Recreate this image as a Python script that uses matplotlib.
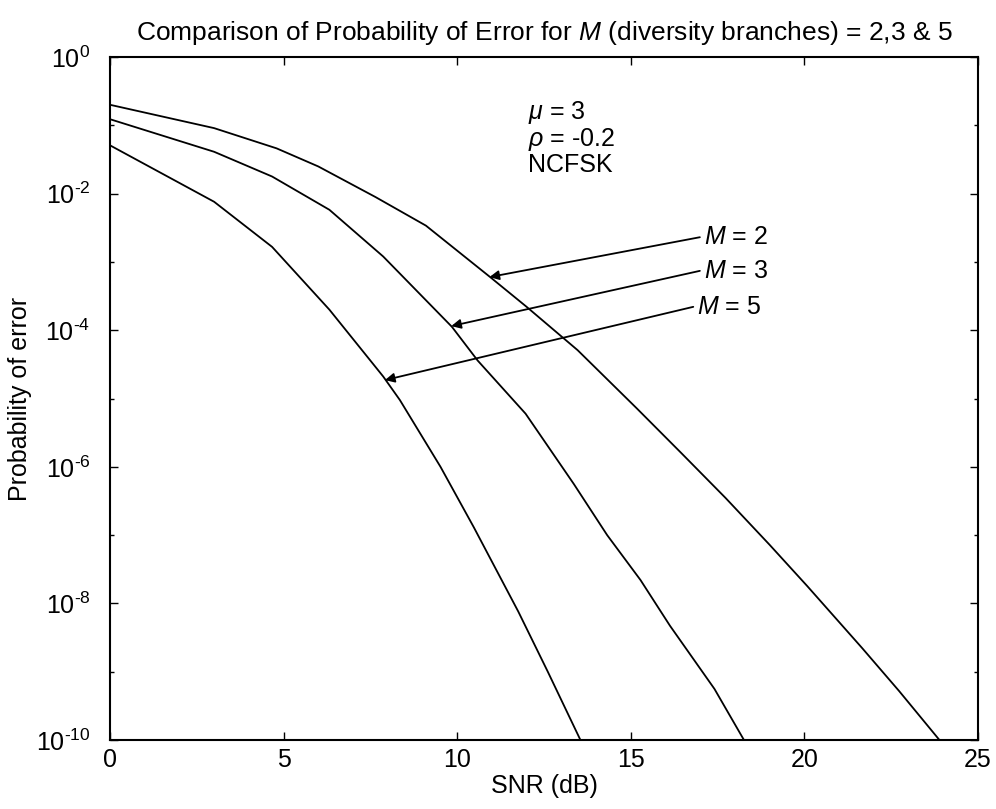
import numpy as np
import matplotlib.pyplot as plt
from matplotlib.ticker import FixedLocator, NullFormatter

plt.rcParams['font.family'] = ['Liberation Sans', 'DejaVu Sans']
plt.rcParams['mathtext.fontset'] = 'custom'
plt.rcParams['mathtext.rm'] = 'Liberation Sans'
plt.rcParams['mathtext.it'] = 'Liberation Sans:italic'

# values: SNR (dB) and probability of error
snr_m2 = [0, 3.0, 4.8, 6.0, 7.65, 9.1, 10.95, 12.0, 13.47, 15.17, 16.45, 17.73, 19.0, 20.08, 21.67, 22.73, 23.89]
pe_m2 = [0.20, 0.091, 0.046, 0.025, 8.9e-3, 3.4e-3, 6.0e-4, 2.2e-4, 5.1e-5, 7.2e-6, 1.6e-6, 3.5e-7, 7.2e-8, 1.8e-8, 2.2e-9, 5.2e-10, 1.0e-10]

snr_m3 = [0, 3.0, 4.67, 6.32, 7.87, 9.85, 10.59, 11.97, 13.36, 14.32, 15.28, 16.13, 17.41, 18.26]
pe_m3 = [0.123, 0.041, 0.0178, 5.8e-3, 1.2e-3, 1.12e-4, 3.6e-5, 6.0e-6, 5.6e-7, 1.0e-7, 2.2e-8, 4.7e-9, 5.6e-10, 1.0e-10]

snr_m5 = [0, 3.0, 4.67, 6.32, 7.87, 8.35, 9.52, 10.48, 11.76, 12.61, 13.55]
pe_m5 = [0.051, 7.6e-3, 1.66e-3, 2.0e-4, 2.1e-5, 9.5e-6, 1.0e-6, 1.3e-7, 7.6e-9, 1.0e-9, 1.0e-10]

# arrow labels: text, arrow start and tip
arrow_labels = ['$M$ = 2', '$M$ = 3', '$M$ = 5']
arrow_start_x = [16.99, 16.99, 16.80]
arrow_start_y = [2.3e-3, 7.4e-4, 2.2e-4]
arrow_tip_x = [10.93, 9.83, 7.92]
arrow_tip_y = [6.0e-4, 1.15e-4, 1.86e-5]

fig = plt.figure(figsize=(9.96, 8.09), dpi=100)
ax = fig.add_axes([0.1104, 0.0853, 0.8715, 0.8442])

for snr, pe in [(snr_m2, pe_m2), (snr_m3, pe_m3), (snr_m5, pe_m5)]:
    ax.semilogy(snr, pe, color='black', lw=1.3)

for lab, sx, sy, tx, ty in zip(arrow_labels, arrow_start_x, arrow_start_y, arrow_tip_x, arrow_tip_y):
    ax.annotate('', xy=(tx, ty), xytext=(sx, sy),
                arrowprops=dict(arrowstyle='-|>', color='black', lw=1.3,
                                mutation_scale=14, shrinkA=0, shrinkB=0))
    ax.annotate(lab, xy=(sx, sy), xytext=(3, 0), textcoords='offset points',
                ha='left', va='center', fontsize=18)

ax.text(12.05, 10**-0.62, '$\\mu$ = 3\n$\\rho$ = -0.2\nNCFSK', fontsize=18,
        ha='left', va='top', linespacing=1.0)

ax.set_xlim(0, 25)
ax.set_ylim(1e-10, 1)
ax.set_xticks([0, 5, 10, 15, 20, 25])
major = [10.0**-k for k in range(0, 11, 2)]
minor = [10.0**-k for k in range(1, 10, 2)]
ax.yaxis.set_major_locator(FixedLocator(major))
ax.yaxis.set_minor_locator(FixedLocator(minor))
ax.yaxis.set_minor_formatter(NullFormatter())
ylabels = ['$10^{0}$'] + ['$10^{\\text{-}%d}$' % k for k in range(2, 11, 2)]
ax.set_yticklabels(ylabels)

ax.tick_params(which='both', direction='in', top=True, right=True, labelsize=18)
ax.tick_params(which='major', length=6, width=1)
ax.tick_params(which='minor', length=3, width=1)
ax.tick_params(axis='x', pad=6)
ax.tick_params(axis='y', pad=14)
for s in ax.spines.values():
    s.set_linewidth(1.5)

ax.set_title('Comparison of Probability of Error for $M$ (diversity branches) = 2,3 & 5',
             fontsize=19, pad=12)
ax.set_xlabel('SNR (dB)', fontsize=18, labelpad=1)
ax.set_ylabel('Probability of error', fontsize=18)
ax.yaxis.set_label_coords(-0.09, 0.5)

plt.savefig('out.png', dpi=100)
